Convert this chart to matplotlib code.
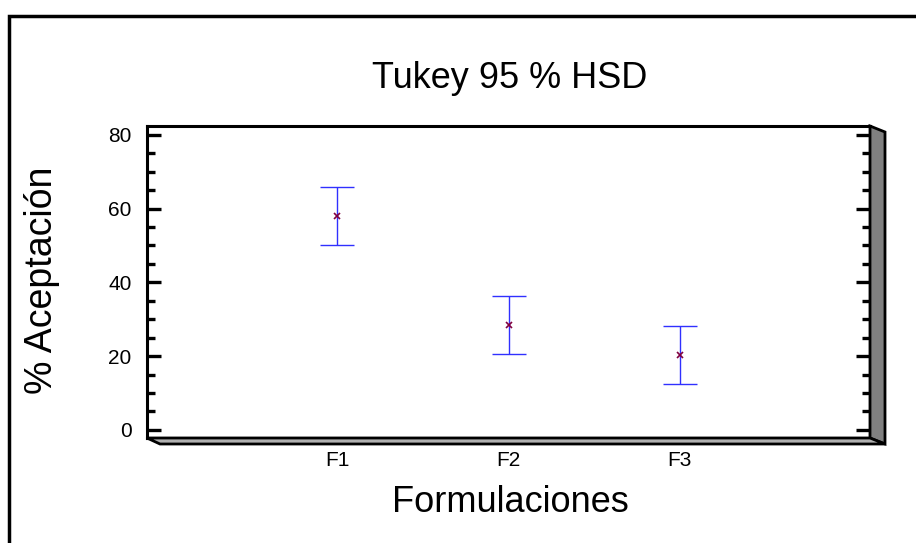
import matplotlib
matplotlib.use("Agg")
import matplotlib.pyplot as plt
from matplotlib.patches import Polygon, Rectangle
from matplotlib.ticker import MultipleLocator

plt.rcParams['font.family'] = ['Liberation Sans', 'DejaVu Sans']

# medias e intervalos Tukey HSD (95 %)
formulaciones = ["F1", "F2", "F3"]
medias = [57.9, 28.4, 20.3]
limite_inf = [50.0, 20.5, 12.4]
limite_sup = [65.8, 36.3, 28.2]

W, H = 916, 543
fig = plt.figure(figsize=(W/100, H/100), dpi=100)

def fx(x):
    return x/W

def fy(y):
    return (H - y)/H

# marco exterior
fig.patches.append(Rectangle((fx(9), fy(H + 20)), fx(W + 20), fy(15.5) - fy(H + 20),
                             transform=fig.transFigure, fill=False,
                             edgecolor='black', linewidth=2.5))

left, right, top, bottom = 147, 870, 126, 438
ax = fig.add_axes([fx(left), fy(bottom), fx(right - left), fy(top) - fy(bottom)])

pos = list(range(1, len(formulaciones) + 1))
err_lo = [m - l for m, l in zip(medias, limite_inf)]
err_hi = [u - m for m, u in zip(medias, limite_sup)]
ax.errorbar(pos, medias, yerr=[err_lo, err_hi], fmt='none', ecolor='#3030ff',
            elinewidth=1.0, capsize=12, capthick=1.0)
ax.plot(pos, medias, 'x', color='#800040', markersize=4.5, markeredgewidth=1.2)

ax.set_xlim(-0.114, 4.114)
ax.set_ylim(-2.2, 82.4)
ax.set_xticks(pos)
ax.set_xticklabels(formulaciones)
ax.yaxis.set_major_locator(MultipleLocator(20))
ax.yaxis.set_minor_locator(MultipleLocator(5))
ax.tick_params(axis='x', length=0, pad=9, labelsize=15)
ax.tick_params(axis='y', which='major', direction='in', length=10, width=2.4,
               left=True, right=True, pad=11, labelsize=15)
ax.tick_params(axis='y', which='minor', direction='in', length=5.5, width=2.4,
               left=True, right=True)
for s in ax.spines.values():
    s.set_linewidth(2.2)

# profundidad del panel (efecto 3D)
dx, dy = 15, 6
lado = Polygon([(fx(right), fy(top)), (fx(right + dx), fy(top + dy)),
                (fx(right + dx), fy(bottom + dy)), (fx(right), fy(bottom))],
               closed=True, transform=fig.transFigure, facecolor='#808080',
               edgecolor='black', linewidth=2.0)
base = Polygon([(fx(left), fy(bottom)), (fx(left + 13), fy(bottom + dy)),
                (fx(right + dx), fy(bottom + dy)), (fx(right), fy(bottom))],
               closed=True, transform=fig.transFigure, facecolor='#b0b0b0',
               edgecolor='black', linewidth=2.0)
fig.patches.extend([lado, base])

fig.text(fx(510), fy(78), "Tukey 95 % HSD", ha='center', va='center', fontsize=26)
fig.text(fx(510), fy(503), "Formulaciones", ha='center', va='center', fontsize=26)
fig.text(fx(42), fy(280), "% Aceptación", ha='center', va='center', fontsize=27,
         rotation=90)

fig.savefig("out.png", dpi=100)
